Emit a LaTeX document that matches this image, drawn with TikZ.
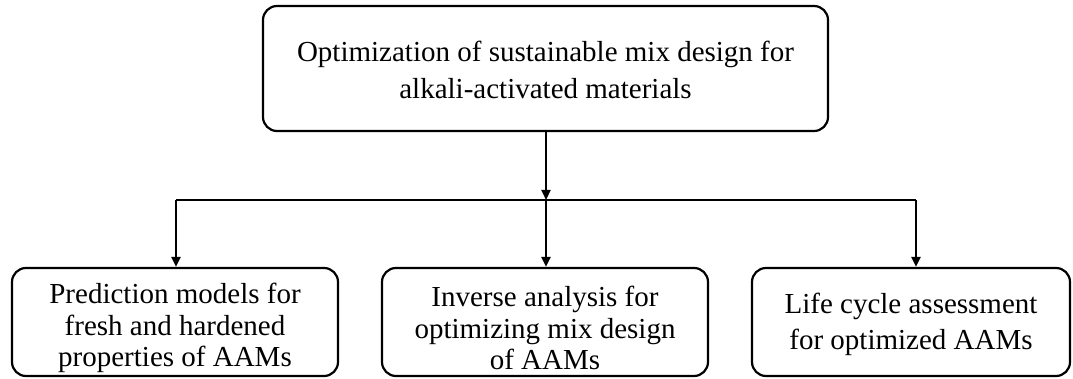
\documentclass[tikz,border=0pt]{standalone}
\usepackage{fontspec}
\setmainfont{Liberation Serif}
\usetikzlibrary{arrows.meta}
\begin{document}
\begin{tikzpicture}[x=1pt,y=-1pt,
  box/.style={draw=black, line width=2.2pt, rounded corners=14pt, fill=white,
    align=center, inner sep=0pt, font=\fontsize{29}{32}\selectfont},
  link/.style={line width=2.2pt},
  arr/.style={line width=2.2pt, -{Triangle[length=10pt,width=9pt]}}]
  \useasboundingbox (0,0) rectangle (1073,379);

  % main goal
  \node[box, minimum width=565pt, minimum height=125pt] (goal) at (545.5,68.5) {};
  \node[align=center, inner sep=0pt, font=\fontsize{29}{37}\selectfont]
    (goaltext) at (545.5,70)
    {Optimization of sustainable mix design for\\alkali-activated materials};

  % three work packages
  \node[box, minimum width=326pt, minimum height=108pt] (pred) at (175,322) {};
  \node[align=center, inner sep=0pt, font=\fontsize{29}{31.5}\selectfont]
    (predtext) at (175,328)
    {Prediction models for\\fresh and hardened\\properties of AAMs};
  \node[box, minimum width=326pt, minimum height=108pt] (inv) at (545,322) {};
  \node[align=center, inner sep=0pt, font=\fontsize{29}{31.5}\selectfont]
    (invtext) at (545,328)
    {Inverse analysis for\\optimizing mix design\\of AAMs};
  \node[box, minimum width=318pt, minimum height=108pt] (lca) at (911,322) {};
  \node[align=center, inner sep=0pt, font=\fontsize{29}{36}\selectfont]
    (lcatext) at (911,324)
    {Life cycle assessment\\for optimized AAMs};

  % branching connector
  \coordinate (split) at (546,200);
  \coordinate (splitL) at (176,200);
  \coordinate (splitR) at (916,200);
  \draw[arr] (goal.south -| split) -- (split);
  \draw[link] (splitL) -- (splitR);
  \draw[arr] (splitL) -- (splitL |- pred.north);
  \draw[arr] (split) -- (split |- inv.north);
  \draw[arr] (splitR) -- (splitR |- lca.north);
\end{tikzpicture}
\end{document}
